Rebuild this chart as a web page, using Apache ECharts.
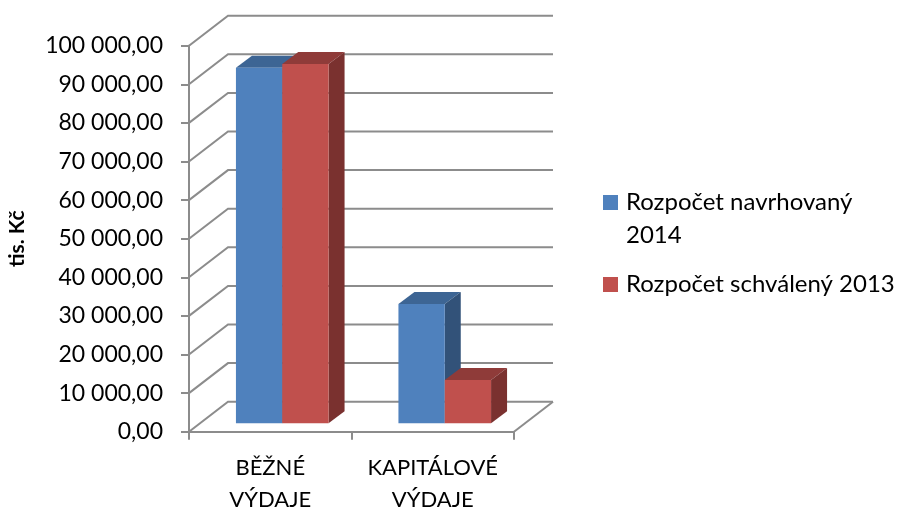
<!doctype html>
<html>
<head>
    <meta charset="utf-8">
    <title>Rozpočet</title>
    <style>
        html, body { margin: 0; padding: 0; background: #fff; }
        #Chart { width: 899px; height: 508px; }
    </style>
</head>
<body>
    <div id="Chart"></div>
    <script src="https://cdn.jsdelivr.net/npm/echarts@6/dist/echarts.min.js"></script>
    <script>
        var categories = ['BĚŽNÉ\nVÝDAJE', 'KAPITÁLOVÉ\nVÝDAJE'];
        var seriesNames = ['Rozpočet navrhovaný 2014', 'Rozpočet schválený 2013'];
        var values2014 = [92100, 30900];
        var values2013 = [93100, 11200];
        var yTicks = [0, 10000, 20000, 30000, 40000, 50000, 60000, 70000, 80000, 90000, 100000];

        var FONT = 'Lato';
        var GRID_COLOR = '#8c8c8c';

        // fake 3D: how far the back wall and the bars are pushed, in pixels
        var wallDx = 39, wallDy = -30;
        var barDx = 16, barDy = -12;
        var barShiftX = 12, barShiftY = -8.4;

        function renderWall(params, api) {
            var left = params.coordSys.x;
            var right = left + params.coordSys.width;
            var y = api.coord([0, api.value(1)])[1];
            var children = [{
                type: 'polyline',
                shape: { points: [[left, y], [left + wallDx, y + wallDy], [right + wallDx, y + wallDy]] },
                style: { stroke: GRID_COLOR, lineWidth: 2, fill: null }
            }];
            if (api.value(1) === 0) {
                children.push({
                    type: 'line',
                    shape: { x1: right, y1: y, x2: right + wallDx, y2: y + wallDy },
                    style: { stroke: GRID_COLOR, lineWidth: 2 }
                });
            }
            return { type: 'group', children: children };
        }

        function barRenderer(side, front, top, dark) {
            return function (params, api) {
                var base = api.coord([api.value(0), 0]);
                var peak = api.coord([api.value(0), api.value(1)]);
                var w = api.size([1, 0])[0] * 0.285;
                var x0 = base[0] + barShiftX + (side < 0 ? -w : 0);
                var x1 = x0 + w;
                var y0 = base[1] + barShiftY;
                var y1 = peak[1] + barShiftY;
                return {
                    type: 'group',
                    children: [{
                        type: 'polygon',
                        shape: { points: [[x0, y1], [x0 + barDx, y1 + barDy], [x1 + barDx, y1 + barDy], [x1, y1]] },
                        style: { fill: top }
                    }, {
                        type: 'polygon',
                        shape: { points: [[x1, y1], [x1 + barDx, y1 + barDy], [x1 + barDx, y0 + barDy], [x1, y0]] },
                        style: { fill: dark }
                    }, {
                        type: 'rect',
                        shape: { x: x0, y: y1, width: w, height: y0 - y1 },
                        style: { fill: front }
                    }]
                };
            };
        }

        function toPairs(list) {
            return list.map(function (v, i) { return [i, v]; });
        }

        function BuildChart() {
            var myChart = echarts.init(document.getElementById('Chart'));
            var option = {
                animation: false,
                backgroundColor: '#ffffff',
                textStyle: { fontFamily: FONT },
                grid: { left: 189, top: 45.7, width: 325, height: 386, outerBoundsMode: 'none' },
                legend: [{
                    data: [seriesNames[0]],
                    left: 603,
                    top: 153,
                    itemWidth: 15,
                    itemHeight: 15,
                    itemGap: 0,
                    padding: 0,
                    selectedMode: false,
                    icon: 'rect',
                    textStyle: { fontFamily: FONT, fontSize: 24, color: '#000', lineHeight: 33, padding: [0, 0, 0, 3] },
                    // the blank first line keeps the marker level with the first text row
                    formatter: function () { return '\nRozpočet navrhovaný\n2014'; }
                }, {
                    data: [seriesNames[1]],
                    left: 603,
                    top: 268,
                    itemWidth: 15,
                    itemHeight: 15,
                    padding: 0,
                    selectedMode: false,
                    icon: 'rect',
                    textStyle: { fontFamily: FONT, fontSize: 24, color: '#000', lineHeight: 33, padding: [0, 0, 0, 3] }
                }],
                xAxis: {
                    type: 'category',
                    data: categories,
                    axisLine: { lineStyle: { color: GRID_COLOR, width: 2 } },
                    axisTick: { show: true, alignWithLabel: false, length: 8, lineStyle: { color: GRID_COLOR, width: 2 } },
                    axisLabel: { fontFamily: FONT, fontSize: 22, color: '#000', lineHeight: 32, margin: 20, interval: 0 }
                },
                yAxis: {
                    type: 'value',
                    min: 0,
                    max: 100000,
                    interval: 10000,
                    name: 'tis. Kč',
                    nameLocation: 'middle',
                    nameRotate: 90,
                    nameGap: 161,
                    nameTextStyle: { fontFamily: FONT, fontSize: 21, fontWeight: 'bold', color: '#000' },
                    splitLine: { show: false },
                    axisLine: { show: true, lineStyle: { color: GRID_COLOR, width: 2 } },
                    axisTick: { show: true, length: 8, lineStyle: { color: GRID_COLOR, width: 2 } },
                    axisLabel: {
                        fontFamily: FONT,
                        fontSize: 23,
                        color: '#000',
                        margin: 26,
                        padding: [3, 0, 0, 0],
                        formatter: function (v) {
                            return String(v).replace(/\B(?=(\d{3})+$)/g, ' ') + ',00';
                        }
                    }
                },
                series: [{
                    name: 'walls',
                    type: 'custom',
                    clip: false,
                    silent: true,
                    z: 1,
                    renderItem: renderWall,
                    encode: { x: 0, y: 1 },
                    data: toPairs(yTicks).map(function (p) { return [0, p[1]]; })
                }, {
                    name: seriesNames[0],
                    type: 'custom',
                    clip: false,
                    z: 2,
                    itemStyle: { color: '#4f81bd' },
                    renderItem: barRenderer(-1, '#4f81bd', '#3d6594', '#325279'),
                    encode: { x: 0, y: 1 },
                    data: toPairs(values2014)
                }, {
                    name: seriesNames[1],
                    type: 'custom',
                    clip: false,
                    z: 3,
                    itemStyle: { color: '#c0504d' },
                    renderItem: barRenderer(1, '#c0504d', '#8f3b39', '#7a312f'),
                    encode: { x: 0, y: 1 },
                    data: toPairs(values2013)
                }]
            };
            myChart.setOption(option);
        }

        BuildChart();
    </script>
</body>
</html>
